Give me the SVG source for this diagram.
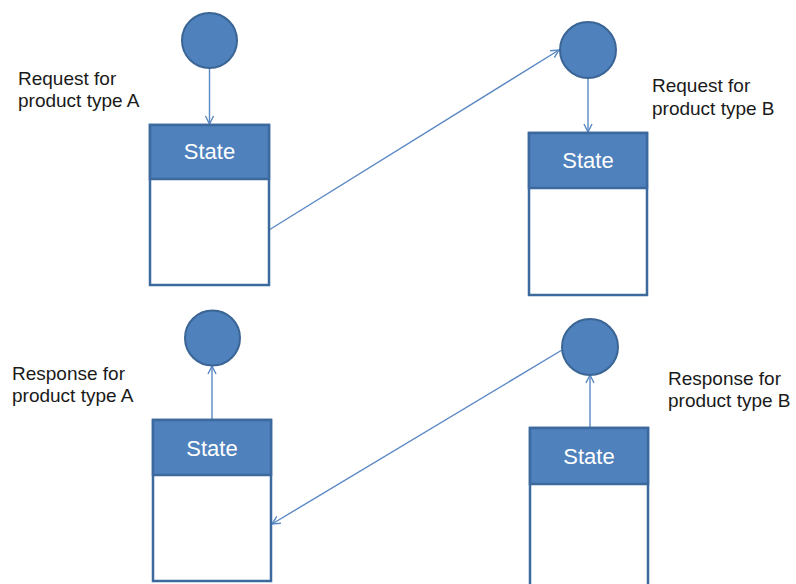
<svg xmlns="http://www.w3.org/2000/svg" width="796" height="584" viewBox="0 0 796 584">
<style>
  .circ { fill: #4F81BD; stroke: #3A6595; stroke-width: 2; }
  .hdr { fill: #4F81BD; stroke: #3C6A9E; stroke-width: 2.5; }
  .body { fill: #FFFFFF; stroke: #3C6A9E; stroke-width: 2.5; }
  .st { font-family: "Liberation Sans", Arial, sans-serif; font-size: 22px; fill: #FFFFFF; text-anchor: middle; }
  .lbl { font-family: "Liberation Sans", Arial, sans-serif; font-size: 19px; fill: #1A1A1A; }
  .conn { stroke: #5A88C4; stroke-width: 1.4; fill: none; marker-end: url(#arr); }
</style>
<defs>
  <marker id="arr" viewBox="0 0 10 10" refX="9" refY="5" markerWidth="10" markerHeight="10" markerUnits="userSpaceOnUse" orient="auto">
    <path d="M1,1 L9,5 L1,9" fill="none" stroke="#5A88C4" stroke-width="1.4"/>
  </marker>
</defs>
<rect width="796" height="584" fill="#FFFFFF"/>

<g id="connectors">
  <line class="conn" x1="209.5" y1="68" x2="209.5" y2="124"/>
  <line class="conn" x1="588" y1="78" x2="588" y2="132"/>
  <line class="conn" x1="269" y1="230" x2="559" y2="50"/>
  <line class="conn" x1="212" y1="420" x2="212" y2="366"/>
  <line class="conn" x1="590" y1="428" x2="590" y2="375"/>
  <line class="conn" x1="562" y1="350" x2="272" y2="524"/>
</g>

<g id="req-a-event">
  <circle class="circ" cx="209.5" cy="40.5" r="27.5"/>
</g>
<g id="req-a-label">
  <text class="lbl" x="18" y="85">Request for</text>
  <text class="lbl" x="18" y="107">product type A</text>
</g>
<g id="state-tl">
  <rect class="body" x="150" y="125" width="119" height="160"/>
  <rect class="hdr" x="150" y="125" width="119" height="54"/>
  <text class="st" x="209.5" y="159">State</text>
</g>

<g id="req-b-event">
  <circle class="circ" cx="588" cy="50" r="28"/>
</g>
<g id="req-b-label">
  <text class="lbl" x="652" y="92">Request for</text>
  <text class="lbl" x="652" y="115">product type B</text>
</g>
<g id="state-tr">
  <rect class="body" x="529" y="133" width="118" height="162"/>
  <rect class="hdr" x="529" y="133" width="118" height="55"/>
  <text class="st" x="588" y="168">State</text>
</g>

<g id="resp-a-event">
  <circle class="circ" cx="212.5" cy="338" r="27.5"/>
</g>
<g id="resp-a-label">
  <text class="lbl" x="12" y="380">Response for</text>
  <text class="lbl" x="12" y="402">product type A</text>
</g>
<g id="state-bl">
  <rect class="body" x="153" y="420" width="118" height="161"/>
  <rect class="hdr" x="153" y="420" width="118" height="55"/>
  <text class="st" x="212" y="456">State</text>
</g>

<g id="resp-b-event">
  <circle class="circ" cx="590" cy="347" r="28"/>
</g>
<g id="resp-b-label">
  <text class="lbl" x="668" y="385">Response for</text>
  <text class="lbl" x="668" y="407">product type B</text>
</g>
<g id="state-br">
  <rect class="body" x="530" y="428" width="118" height="170"/>
  <rect class="hdr" x="530" y="428" width="118" height="56"/>
  <text class="st" x="589" y="464">State</text>
</g>
</svg>
